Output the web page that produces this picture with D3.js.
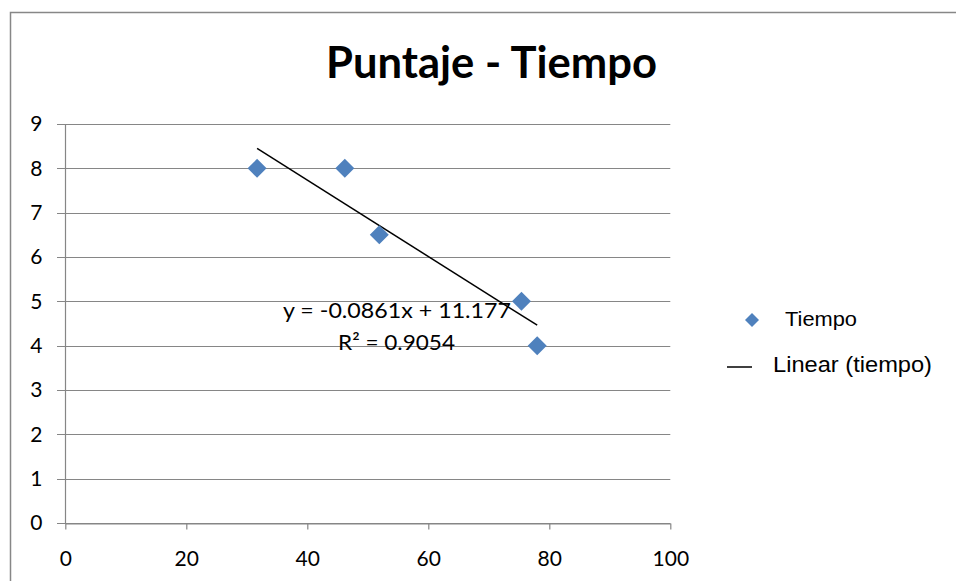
<!DOCTYPE html>
<html>
<head>
<meta charset="utf-8">
<script src="https://cdn.jsdelivr.net/npm/d3@7"></script>
<style>
  html, body { margin: 0; padding: 0; background: #fff; }
  svg { display: block; }
</style>
</head>
<body>
<svg id="chart" width="956" height="581"></svg>
<script>
// Scores against time, with a fitted linear trend
const tiempoX = [31.7, 46.2, 51.9, 75.4, 78.0];
const puntajeY = [8, 8, 6.5, 5, 4];
const xTicks = [0, 20, 40, 60, 80, 100];
const yTicks = [0, 1, 2, 3, 4, 5, 6, 7, 8, 9];
const trendSlope = -0.0861;
const trendIntercept = 11.177;
const trendR2 = 0.9054;

const svg = d3.select("#chart");

const fontCal = "Lato, 'Open Sans', sans-serif";
const fontArial = "'Liberation Sans', Arial, sans-serif";
const gridColor = "#868686";

// outer chart frame (continues past the visible area on the right and bottom)
svg.append("rect")
  .attr("x", 10.5).attr("y", 12.5)
  .attr("width", 1000).attr("height", 700)
  .attr("fill", "#fff")
  .attr("stroke", "#878787")
  .attr("stroke-width", 1.5);

const x = d3.scaleLinear().domain([0, 100]).range([65.3, 670.3]);
const y = d3.scaleLinear().domain([0, 9]).range([523, 124]);

// horizontal gridlines
svg.append("g")
  .selectAll("line")
  .data(yTicks)
  .join("line")
  .attr("x1", 57).attr("x2", x(100))
  .attr("y1", d => Math.round(y(d)) + 0.5)
  .attr("y2", d => Math.round(y(d)) + 0.5)
  .attr("stroke", gridColor)
  .attr("stroke-width", 1.2);

// y axis
const yAxis = svg.append("g")
  .attr("transform", `translate(${Math.round(x(0)) + 0.5},0)`)
  .call(d3.axisLeft(y).tickValues(yTicks).tickSize(0).tickPadding(23).tickFormat(d3.format("d")));
yAxis.select(".domain").attr("stroke", gridColor).attr("stroke-width", 1.2)
  .attr("d", `M0,${y(9)}V${y(0)}`);
yAxis.selectAll("text")
  .attr("font-family", fontCal).attr("font-size", 21).attr("fill", "#000");

// x axis
const xAxis = svg.append("g")
  .attr("transform", `translate(0,${Math.round(y(0)) + 0.5})`)
  .call(d3.axisBottom(x).tickValues(xTicks).tickSizeInner(6).tickSizeOuter(0).tickFormat(d3.format("d")));
xAxis.select(".domain").attr("stroke", gridColor).attr("stroke-width", 1.2);
xAxis.selectAll(".tick line").attr("stroke", gridColor).attr("stroke-width", 1.2);
xAxis.selectAll("text")
  .attr("y", 42).attr("dy", null)
  .attr("font-family", fontCal).attr("font-size", 21).attr("fill", "#000");

// linear trendline over the data range
const xMin = d3.min(tiempoX), xMax = d3.max(tiempoX);
svg.append("line")
  .attr("x1", x(xMin)).attr("y1", y(trendSlope * xMin + trendIntercept))
  .attr("x2", x(xMax)).attr("y2", y(trendSlope * xMax + trendIntercept))
  .attr("stroke", "#000").attr("stroke-width", 1.5);

// data points as diamonds
const diamond = d3.symbol().type(d3.symbolSquare).size(180);
svg.append("g")
  .selectAll("path")
  .data(tiempoX.map((v, i) => [v, puntajeY[i]]))
  .join("path")
  .attr("d", diamond)
  .attr("transform", d => `translate(${x(d[0])},${y(d[1])}) rotate(45)`)
  .attr("fill", "#4F81BD");

// trendline equation label
svg.append("text")
  .attr("x", 397).attr("y", 318)
  .attr("text-anchor", "middle")
  .attr("font-family", fontCal).attr("font-size", 22)
  .attr("textLength", 228).attr("lengthAdjust", "spacingAndGlyphs")
  .text(`y = ${trendSlope}x + ${trendIntercept}`);
svg.append("text")
  .attr("x", 396.5).attr("y", 350)
  .attr("text-anchor", "middle")
  .attr("font-family", fontCal).attr("font-size", 22)
  .attr("textLength", 117).attr("lengthAdjust", "spacingAndGlyphs")
  .text(`R² = ${trendR2}`);

// title
svg.append("text")
  .attr("x", 491.5).attr("y", 78)
  .attr("text-anchor", "middle")
  .attr("font-family", fontCal).attr("font-weight", "bold").attr("font-size", 43)
  .attr("textLength", 331).attr("lengthAdjust", "spacingAndGlyphs")
  .text("Puntaje - Tiempo");

// legend
const legend = svg.append("g");
legend.append("path")
  .attr("d", d3.symbol().type(d3.symbolSquare).size(98))
  .attr("transform", "translate(752,320) rotate(45)")
  .attr("fill", "#4F81BD");
legend.append("text")
  .attr("x", 785).attr("y", 326)
  .attr("font-family", fontArial).attr("font-size", 21)
  .attr("textLength", 72).attr("lengthAdjust", "spacingAndGlyphs")
  .text("Tiempo");
legend.append("line")
  .attr("x1", 727).attr("x2", 752)
  .attr("y1", 367).attr("y2", 367)
  .attr("stroke", "#000").attr("stroke-width", 1.5);
legend.append("text")
  .attr("x", 773).attr("y", 372)
  .attr("font-family", fontArial).attr("font-size", 21.5)
  .attr("textLength", 159).attr("lengthAdjust", "spacingAndGlyphs")
  .text("Linear (tiempo)");
</script>
</body>
</html>
